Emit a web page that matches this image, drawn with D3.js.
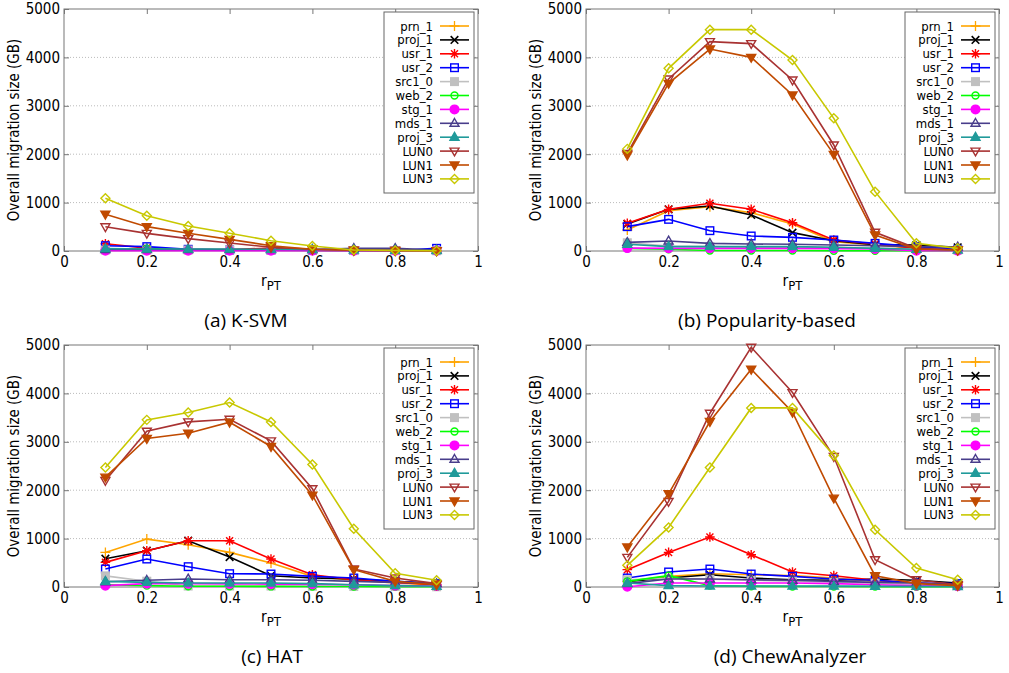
<!DOCTYPE html>
<html>
<head>
<meta charset="utf-8">
<script src="https://cdn.jsdelivr.net/npm/d3@7"></script>
<style>
body { margin: 0; background: #fff; }
svg text { font-family: "DejaVu Sans Condensed", "DejaVu Sans", sans-serif; fill: #000; }
.cap { font-family: "Open Sans", sans-serif; font-size: 19px; }
</style>
</head>
<body>
<svg id="chart" width="1009" height="673"></svg>
<script>
var xs = [0.1, 0.2, 0.3, 0.4, 0.5, 0.6, 0.7, 0.8, 0.9]
var xTicks = [0, 0.2, 0.4, 0.6, 0.8, 1]
var yTicks = [0, 1000, 2000, 3000, 4000, 5000]

var names = ['prn_1', 'proj_1', 'usr_1', 'usr_2', 'src1_0', 'web_2', 'stg_1', 'mds_1', 'proj_3', 'LUN0', 'LUN1', 'LUN3']
var colors = ['#ffa500', '#000000', '#ff0000', '#0000ff', '#c0c0c0', '#00ff00', '#ff00ff', '#483d8b', '#209a9a', '#a83232', '#c04a00', '#c8c800']
var symbols = ['plus', 'cross', 'star', 'square', 'squareFill', 'circle', 'circleFill', 'triUp', 'triUpFill', 'triDown', 'triDownFill', 'diamond']

var captions = ['(a) K-SVM', '(b) Popularity-based', '(c) HAT', '(d) ChewAnalyzer']

// rows follow the order of names
var ksvm = [
  [30, 30, 20, 20, 20, 15, 10, 10, 5],
  [40, 35, 25, 20, 20, 15, 10, 10, 5],
  [150, 60, 30, 30, 60, 30, 15, 10, 5],
  [110, 90, 35, 20, 20, 15, 10, 10, 55],
  [20, 20, 20, 20, 15, 15, 10, 10, 5],
  [20, 50, 20, 20, 15, 10, 10, 5, 5],
  [5, 5, 5, 5, 5, 5, 5, 5, 5],
  [30, 30, 30, 30, 30, 30, 55, 55, 20],
  [50, 40, 40, 40, 35, 30, 20, 15, 10],
  [500, 365, 255, 165, 76, 35, 15, 10, 5],
  [760, 503, 365, 241, 110, 35, 15, 10, 5],
  [1090, 730, 517, 365, 213, 103, 20, 10, 5]
]

var popularity = [
  [434, 833, 916, 792, 558, 193, 124, 55, 20],
  [558, 861, 930, 744, 379, 213, 131, 124, 76],
  [572, 861, 985, 861, 585, 227, 145, 55, 20],
  [503, 654, 420, 310, 282, 227, 158, 90, 35],
  [170, 100, 90, 80, 80, 70, 60, 40, 20],
  [55, 35, 10, 10, 10, 5, 5, 5, 5],
  [60, 55, 55, 55, 55, 50, 40, 5, 5],
  [179, 207, 158, 145, 138, 124, 110, 90, 83],
  [138, 90, 90, 90, 90, 76, 55, 35, 20],
  [2018, 3554, 4325, 4284, 3533, 2190, 386, 55, 20],
  [1983, 3464, 4173, 4001, 3223, 1997, 330, 35, 20],
  [2110, 3774, 4573, 4573, 3946, 2741, 1226, 158, 55]
]

var hat = [
  [715, 990, 873, 715, 495, 220, 138, 83, 41],
  [585, 750, 956, 619, 234, 186, 165, 117, 69],
  [509, 750, 956, 956, 578, 254, 151, 96, 48],
  [371, 578, 420, 275, 268, 220, 186, 117, 69],
  [230, 120, 20, 20, 20, 15, 10, 10, 5],
  [48, 28, 15, 15, 12, 10, 10, 8, 5],
  [28, 69, 69, 65, 60, 55, 45, 28, 20],
  [110, 138, 165, 151, 151, 138, 117, 96, 69],
  [117, 96, 83, 83, 83, 69, 48, 28, 14],
  [2201, 3219, 3411, 3466, 3019, 2029, 371, 186, 69],
  [2270, 3068, 3178, 3405, 2903, 1898, 358, 117, 48],
  [2469, 3453, 3604, 3810, 3411, 2531, 1204, 282, 138]
]

var chew = [
  [117, 220, 275, 254, 234, 186, 117, 83, 48],
  [117, 186, 254, 186, 151, 138, 165, 138, 83],
  [358, 715, 1032, 667, 310, 234, 138, 83, 41],
  [186, 310, 371, 268, 220, 165, 138, 83, 69],
  [150, 180, 160, 140, 120, 100, 80, 60, 40],
  [117, 234, 28, 15, 10, 10, 8, 5, 5],
  [5, 83, 83, 83, 83, 69, 48, 28, 14],
  [69, 165, 165, 151, 138, 117, 96, 83, 48],
  [83, 28, 20, 20, 20, 18, 15, 12, 10],
  [612, 1768, 3590, 4952, 4017, 2696, 564, 151, 48],
  [825, 1926, 3418, 4498, 3611, 1836, 234, 69, 28],
  [447, 1231, 2469, 3700, 3700, 2717, 1183, 392, 151]
]

var panels = [
  {data: ksvm, caption: captions[0], left: 64, right: 478, top: 9, bottom: 251, capX: 246},
  {data: popularity, caption: captions[1], left: 586, right: 999, top: 9, bottom: 251, capX: 767},
  {data: hat, caption: captions[2], left: 64, right: 478, top: 345, bottom: 587, capX: 272},
  {data: chew, caption: captions[3], left: 586, right: 999, top: 345, bottom: 587, capX: 790}
]

var svg = d3.select('#chart')

// marker glyphs, drawn around 0,0
function marker(g, type, color){
  var s = 3.8
  if (type == 'plus') g.append('path').attr('d', 'M-5,0H5M0,-5V5').attr('stroke', color).attr('stroke-width', 1.3)
  if (type == 'cross') g.append('path').attr('d', 'M-3.8,-3.8L3.8,3.8M-3.8,3.8L3.8,-3.8').attr('stroke', color).attr('stroke-width', 1.6)
  if (type == 'star') g.append('path').attr('d', 'M-4.8,0H4.8M0,-4.8V4.8M-3.5,-3.5L3.5,3.5M-3.5,3.5L3.5,-3.5').attr('stroke', color).attr('stroke-width', 1.4)
  if (type == 'square' || type == 'squareFill')
    g.append('rect').attr('x', -s).attr('y', -s).attr('width', 2 * s).attr('height', 2 * s)
      .attr('fill', type == 'square' ? 'none' : color).attr('stroke', color).attr('stroke-width', 1.4)
  if (type == 'circle' || type == 'circleFill')
    g.append('circle').attr('r', type == 'circle' ? 3.5 : 4.3)
      .attr('fill', type == 'circle' ? 'none' : color).attr('stroke', color).attr('stroke-width', 1.4)
  if (type == 'triUp' || type == 'triUpFill')
    g.append('path').attr('d', 'M0,-4.8L4.5,3L-4.5,3Z')
      .attr('fill', type == 'triUp' ? 'none' : color).attr('stroke', color).attr('stroke-width', 1.4)
  if (type == 'triDown' || type == 'triDownFill')
    g.append('path').attr('d', 'M0,4.8L4.5,-3L-4.5,-3Z')
      .attr('fill', type == 'triDown' ? 'none' : color).attr('stroke', color).attr('stroke-width', 1.4)
  if (type == 'diamond')
    g.append('path').attr('d', 'M0,-4.5L4.5,0L0,4.5L-4.5,0Z').attr('fill', 'none').attr('stroke', color).attr('stroke-width', 1.4)
}

panels.forEach(function(p){
  var x = d3.scaleLinear().domain([0, 1]).range([p.left, p.right])
  var y = d3.scaleLinear().domain([0, 5000]).range([p.bottom, p.top])
  var g = svg.append('g')

  // dotted grid
  g.selectAll('line.grid').data(yTicks.slice(1, -1)).join('line')
    .attr('x1', p.left).attr('x2', p.right)
    .attr('y1', d => y(d)).attr('y2', d => y(d))
    .attr('stroke', '#bbb').attr('stroke-width', 1).attr('stroke-dasharray', '1,2')

  // axes: labels outside, ticks inward, mirrored on top / right
  g.append('g').attr('transform', 'translate(' + p.left + ',0)')
    .call(d3.axisLeft(y).tickValues(yTicks).tickFormat(d3.format('d')).tickSize(-5).tickPadding(4))
  g.append('g').attr('transform', 'translate(0,' + p.bottom + ')')
    .call(d3.axisBottom(x).tickValues(xTicks).tickFormat(d => d).tickSize(-5).tickPadding(5))
  g.append('g').attr('transform', 'translate(' + p.right + ',0)')
    .call(d3.axisRight(y).tickValues(yTicks).tickSize(-5).tickFormat(''))
  g.append('g').attr('transform', 'translate(0,' + p.top + ')')
    .call(d3.axisTop(x).tickValues(xTicks).tickSize(-5).tickFormat(''))
  g.selectAll('.domain').remove()
  g.selectAll('.tick line').attr('stroke', '#777')
  g.selectAll('.tick text').attr('font-size', 15).attr('font-family', '"DejaVu Sans Condensed", "DejaVu Sans", sans-serif')

  g.append('rect').attr('x', p.left).attr('y', p.top)
    .attr('width', p.right - p.left).attr('height', p.bottom - p.top)
    .attr('fill', 'none').attr('stroke', '#777').attr('stroke-width', 1)

  // axis titles
  g.append('text').attr('transform', 'translate(' + (p.left - 45) + ',' + ((p.top + p.bottom) / 2) + ') rotate(-90)')
    .attr('text-anchor', 'middle').attr('font-size', 15).text('Overall migration size (GB)')
  var xt = g.append('text').attr('x', (p.left + p.right) / 2).attr('y', p.bottom + 35)
    .attr('text-anchor', 'middle').attr('font-size', 15.5)
  xt.append('tspan').text('r')
  xt.append('tspan').attr('dy', 4).attr('font-size', 13).text('PT')

  // series
  var line = d3.line().x((d, i) => x(xs[i])).y(d => y(d))
  p.data.forEach(function(vals, k){
    g.append('path').attr('d', line(vals)).attr('fill', 'none')
      .attr('stroke', colors[k]).attr('stroke-width', 1.6)
    vals.forEach(function(v, i){
      marker(g.append('g').attr('transform', 'translate(' + x(xs[i]) + ',' + y(v) + ')'), symbols[k], colors[k])
    })
  })

  // legend
  var bx = p.right - 94, by = p.top + 3
  var lg = g.append('g')
  lg.append('rect').attr('x', bx).attr('y', by).attr('width', 90).attr('height', 181)
    .attr('fill', '#fff').attr('stroke', '#666').attr('stroke-width', 1)
  names.forEach(function(n, k){
    var ry = by + 14 + k * 13.9
    lg.append('text').attr('x', bx + 49).attr('y', ry + 4.5).attr('text-anchor', 'end')
      .attr('font-size', 13).text(n)
    lg.append('line').attr('x1', bx + 56).attr('x2', bx + 85).attr('y1', ry).attr('y2', ry)
      .attr('stroke', colors[k]).attr('stroke-width', 1.6)
    marker(lg.append('g').attr('transform', 'translate(' + (bx + 70.5) + ',' + ry + ')'), symbols[k], colors[k])
  })

  svg.append('text').attr('class', 'cap').attr('x', p.capX).attr('y', p.bottom + 76)
    .attr('text-anchor', 'middle').text(p.caption)
})
</script>
</body>
</html>
